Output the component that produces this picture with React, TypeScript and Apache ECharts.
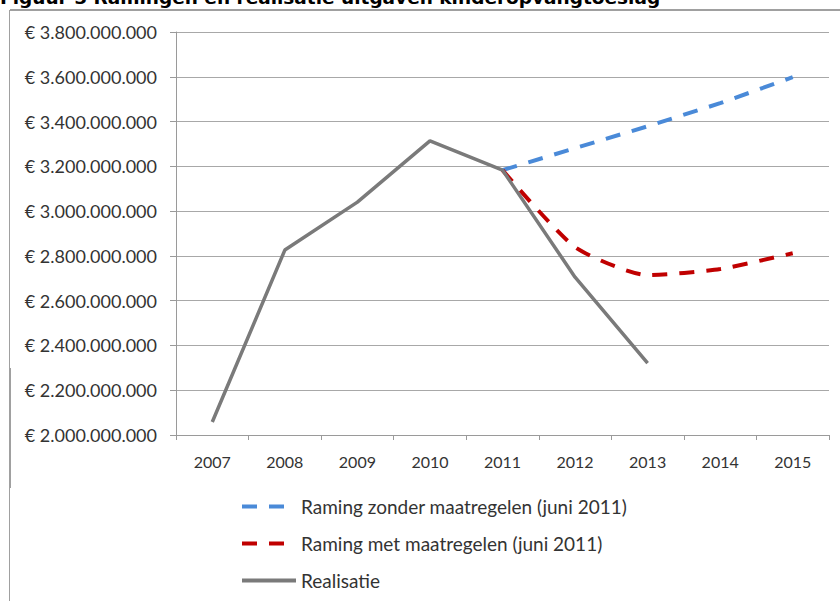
import React, { useEffect, useRef } from "react";
import * as echarts from "echarts";

const years = ["2007", "2008", "2009", "2010", "2011", "2012", "2013", "2014", "2015"];
const zonderMaatregelen = [null, null, null, null, 3183000000, 3281000000, 3379000000, 3482000000, 3598000000];
const metMaatregelen = [null, null, null, null, 3183000000, 2839000000, 2714000000, 2741000000, 2812000000];
const realisatie = [2058000000, 2826000000, 3040000000, 3314000000, 3183000000, 2705000000, 2321000000, null, null];
const seriesNames = [
  "Raming zonder maatregelen (juni 2011)",
  "Raming met maatregelen (juni 2011)",
  "Realisatie",
];
const titleText = "Figuur 5 Ramingen en realisatie uitgaven kinderopvangtoeslag";

const fmt = (v: number) => "€ " + String(v).replace(/\B(?=(\d{3})+(?!\d))/g, ".");

export default function App() {
  const ref = useRef<HTMLDivElement>(null);
  useEffect(() => {
    if (!ref.current) return;
    const chart = echarts.init(ref.current, null, { renderer: "svg" });
    const font = "Lato";
    chart.setOption({
      animation: false,
      backgroundColor: "#ffffff",
      grid: { left: 176, right: 11, top: 32, bottom: 166, containLabel: false },
      xAxis: {
        type: "category",
        data: years,
        boundaryGap: true,
        axisLine: { lineStyle: { color: "#9a9a9a", width: 1 } },
        axisTick: { show: true, length: 5, lineStyle: { color: "#9a9a9a" } },
        axisLabel: { color: "#333333", fontFamily: font, fontSize: 16, margin: 18 },
        splitLine: { show: false },
      },
      yAxis: {
        type: "value",
        min: 2000000000,
        max: 3800000000,
        interval: 200000000,
        axisLine: { show: true, lineStyle: { color: "#9a9a9a", width: 1 } },
        axisTick: { show: true, length: 6, lineStyle: { color: "#9a9a9a" } },
        axisLabel: { color: "#333333", fontFamily: font, fontSize: 18, margin: 19, formatter: fmt },
        splitLine: { show: true, lineStyle: { color: "#a8a8a8", width: 1 } },
      },
      legend: {
        orient: "vertical",
        left: 240,
        top: 497,
        height: 110,
        padding: 0,
        itemWidth: 54,
        itemHeight: 14,
        itemGap: 18,
        data: seriesNames,
        itemStyle: { opacity: 0 },
        lineStyle: { width: 4 },
        textStyle: { color: "#333333", fontFamily: font, fontSize: 19 },
      },
      series: [
        {
          name: seriesNames[0],
          type: "line",
          data: zonderMaatregelen,
          symbol: "none",
          lineStyle: { color: "#4a8ad8", width: 4, type: [15, 12] },
          itemStyle: { color: "#4a8ad8" },
        },
        {
          name: seriesNames[1],
          type: "line",
          data: metMaatregelen,
          symbol: "none",
          smooth: 0.2,
          lineStyle: { color: "#c00000", width: 4, type: [15, 12] },
          itemStyle: { color: "#c00000" },
        },
        {
          name: seriesNames[2],
          type: "line",
          data: realisatie,
          symbol: "none",
          lineStyle: { color: "#7a7a7a", width: 3.5 },
          itemStyle: { color: "#7a7a7a" },
        },
      ],
      graphic: [
        {
          type: "line",
          shape: { x1: 10, y1: 10, x2: 840, y2: 10 },
          style: { stroke: "#a0a0a0", lineWidth: 2 },
        },
        {
          type: "line",
          shape: { x1: 9.5, y1: 10, x2: 9.5, y2: 601 },
          style: { stroke: "#a0a0a0", lineWidth: 1 },
        },
        {
          type: "line",
          shape: { x1: 10, y1: 368, x2: 10, y2: 488 },
          style: { stroke: "#a0a0a0", lineWidth: 2 },
        },
        {
          type: "text",
          left: 0,
          top: -12,
          style: {
            text: titleText,
            fill: "#000000",
            font: "bold 18.5px 'DejaVu Sans'",
          },
        },
      ],
    });
    return () => chart.dispose();
  }, []);
  return (
    <div
      ref={ref}
      style={{ position: "absolute", left: 0, top: 0, width: 840, height: 601 }}
    />
  );
}
